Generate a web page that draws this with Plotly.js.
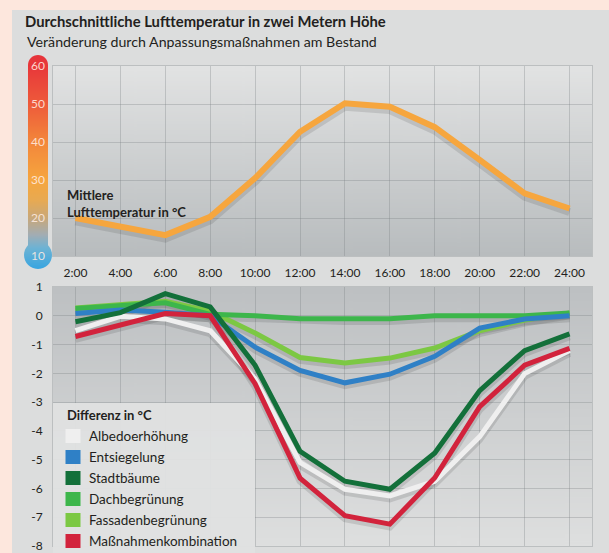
<!DOCTYPE html>
<html><head><meta charset="utf-8">
<script src="https://cdn.plot.ly/plotly-3.0.1.min.js"></script>
<style>html,body{margin:0;padding:0;background:#fde7dd;} #chart{width:609px;height:553px;}</style>
</head><body><div id="chart"></div>
<script>
// ---------- data ----------
const hours = [2, 4, 6, 8, 10, 12, 14, 16, 18, 20, 22, 24];
const hourLabels = ['2:00','4:00','6:00','8:00','10:00','12:00','14:00','16:00','18:00','20:00','22:00','24:00'];
const meanTemp = [20.0, 17.8, 15.5, 20.3, 30.5, 42.7, 50.2, 49.3, 43.9, 35.3, 26.5, 22.5];

const albedo       = [-0.52, -0.02, -0.11, -0.52, -2.20, -5.10, -6.03, -6.26, -5.75, -4.20, -2.01, -1.21];
const entsiegelung = [0.08, 0.20, 0.12, 0.00, -1.09, -1.90, -2.33, -2.03, -1.41, -0.43, -0.11, 0.00];
const stadtbaeume  = [-0.21, 0.11, 0.77, 0.31, -1.72, -4.71, -5.75, -6.03, -4.77, -2.60, -1.21, -0.63];
const dachbegr     = [0.25, 0.35, 0.45, 0.05, 0.00, -0.10, -0.10, -0.10, 0.00, 0.00, 0.00, 0.10];
const fassadenbegr = [0.27, 0.40, 0.50, 0.16, -0.60, -1.45, -1.64, -1.47, -1.12, -0.52, -0.15, 0.10];
const kombination  = [-0.72, -0.34, 0.08, 0.00, -2.36, -5.64, -6.95, -7.24, -5.63, -3.16, -1.72, -1.13];

const legendNames  = ['Albedoerhöhung','Entsiegelung','Stadtbäume','Dachbegrünung','Fassadenbegrünung','Maßnahmenkombination'];
const legendColors = ['#efefef','#2f80c6','#13703a','#3db64b','#7cc843','#d2233c'];
const legendValues = [albedo, entsiegelung, stadtbaeume, dachbegr, fassadenbegr, kombination];
const drawOrder = [4, 3, 1, 0, 2, 5];

const tempTicks = [10, 20, 30, 40, 50, 60];
const diffTicks = [1, 0, -1, -2, -3, -4, -5, -6, -7, -8];
const diffTickLabels = ['1','0','-1','-2','-3','-4','-5','-6','-7','-8'];

// ---------- helpers ----------
const W = 609, H = 553;
const px = v => v / W;
const py = v => 1 - v / H;
function vgrad(w, h, stops, drawFn) {
  const c = document.createElement('canvas'); c.width = w; c.height = h;
  const ctx = c.getContext('2d');
  const g = ctx.createLinearGradient(0, 0, 0, h);
  stops.forEach(s => g.addColorStop(s[0], s[1]));
  ctx.fillStyle = g;
  if (drawFn) drawFn(ctx); else ctx.fillRect(0, 0, w, h);
  return c.toDataURL();
}
const topBg = vgrad(10, 200, [[0, '#e2e3e3'], [1, '#b8bcbe']]);
const botBg = vgrad(10, 200, [[0, '#bdc0c2'], [1, '#dedfdf']]);
// thermometer (canvas 2x: covers px x 23..53, y 54..269)
const tStops = [[55,'#e6333a'],[66,'#e8383a'],[104,'#ee5b3a'],[142,'#f3873b'],[180,'#f6a63f'],[200,'#e8aa52'],[218,'#c8a87a'],[235,'#a2adb4'],[248,'#6db3d4'],[269,'#38a5e1']];
const thermo = vgrad(60, 430, tStops.map(s => [Math.min(1, (s[0] - 54) * 2 / 430), s[1]]), ctx => {
  ctx.beginPath();
  ctx.moveTo(10, 22); ctx.arc(30, 22, 20, Math.PI, 0); ctx.lineTo(50, 402); ctx.lineTo(10, 402); ctx.closePath();
  ctx.fill();
  ctx.beginPath(); ctx.arc(30, 402, 28, 0, 2 * Math.PI); ctx.fill();
});

const FONT = 'Lato, "Open Sans", sans-serif';
const TXT = '#231f20';

// ---------- traces ----------
const traces = [];
traces.push({x: hours, y: meanTemp.map(v => v - 0.9), xaxis: 'x', yaxis: 'y', mode: 'lines',
  line: {color: 'rgba(70,70,70,0.16)', width: 8}, hoverinfo: 'skip', showlegend: false});
traces.push({x: hours, y: meanTemp, xaxis: 'x', yaxis: 'y', mode: 'lines', name: 'Mittlere Lufttemperatur',
  line: {color: '#f6a63e', width: 6}, showlegend: false});
drawOrder.forEach(i => {
  traces.push({x: hours, y: legendValues[i].map(v => v - 0.1), xaxis: 'x2', yaxis: 'y2', mode: 'lines',
    line: {color: 'rgba(40,40,40,0.14)', width: 7}, hoverinfo: 'skip', showlegend: false});
});
drawOrder.forEach(i => {
  traces.push({x: hours, y: legendValues[i], xaxis: 'x2', yaxis: 'y2', mode: 'lines', name: legendNames[i],
    line: {color: legendColors[i], width: 5}, showlegend: false});
});

// ---------- layout ----------
const gridC = 'rgba(120,126,132,0.32)';
const xCommon = {range: [1, 25], tickvals: hours, ticktext: hourLabels, showgrid: true, gridcolor: gridC,
  zeroline: false, showline: true, mirror: true, linecolor: gridC, ticks: '', fixedrange: true,
  domain: [px(53), px(592)]};

const shapes = [
  {type: 'rect', xref: 'paper', yref: 'paper', x0: px(12), x1: 1, y0: 0, y1: py(10),
   fillcolor: '#dcdddd', line: {width: 0}, layer: 'below'},
  {type: 'rect', xref: 'paper', yref: 'paper', x0: px(53), x1: px(255), y0: 0, y1: py(403),
   fillcolor: 'rgba(224,225,225,0.96)', line: {width: 0}, layer: 'above'}
];
const annotations = [
  {text: 'Veränderung durch Anpassungsmaßnahmen am Bestand', xref: 'paper', yref: 'paper',
   x: px(25), y: py(41), xanchor: 'left', yanchor: 'middle', showarrow: false,
   font: {family: FONT, size: 14.2, color: TXT}},
  {text: '<b>Mittlere<br>Lufttemperatur in °C</b>', xref: 'paper', yref: 'paper', align: 'left',
   x: px(65), y: py(185), xanchor: 'left', yanchor: 'top', showarrow: false,
   font: {family: FONT, size: 13, color: TXT}},
  {text: '<b>Differenz in °C</b>', xref: 'paper', yref: 'paper',
   x: px(65), y: py(415), xanchor: 'left', yanchor: 'middle', showarrow: false,
   font: {family: FONT, size: 13, color: TXT}}
];
tempTicks.forEach(t => annotations.push({text: String(t), xref: 'paper', yref: 'y', x: px(38), y: t,
  xanchor: 'center', yanchor: 'middle', showarrow: false,
  font: {family: FONT, size: 12, color: 'rgba(255,236,226,0.88)'}}));
legendNames.forEach((n, i) => {
  const cy = 436 + i * 21;
  shapes.push({type: 'rect', xref: 'paper', yref: 'paper', x0: px(65.5), x1: px(80.5), y0: py(cy + 7), y1: py(cy - 7),
    fillcolor: legendColors[i], line: {width: 0}, layer: 'above'});
  annotations.push({text: n, xref: 'paper', yref: 'paper', x: px(86.5), y: py(cy), xanchor: 'left', yanchor: 'middle',
    showarrow: false, font: {family: FONT, size: 13.5, color: TXT}});
});

const layout = {
  width: W, height: H, margin: {l: 0, r: 0, t: 0, b: 0},
  paper_bgcolor: '#fde7dd', plot_bgcolor: 'rgba(0,0,0,0)',
  font: {family: FONT, size: 12, color: TXT},
  title: {text: '<b>Durchschnittliche Lufttemperatur in zwei Metern Höhe</b>', xref: 'paper', yref: 'paper',
    x: px(25), y: py(22), xanchor: 'left', yanchor: 'middle', font: {family: FONT, size: 14.8, color: TXT}},
  showlegend: false,
  xaxis: Object.assign({}, xCommon, {anchor: 'y', showticklabels: true, ticklabelstandoff: 6,
    tickfont: {family: FONT, size: 12, color: TXT}}),
  yaxis: {domain: [py(256), py(66)], range: [10, 60], tickvals: tempTicks, showticklabels: false, showgrid: true,
    gridcolor: gridC, zeroline: false, showline: true, mirror: true, linecolor: gridC, ticks: '', fixedrange: true, anchor: 'x'},
  xaxis2: Object.assign({}, xCommon, {anchor: 'y2', showticklabels: false}),
  yaxis2: {domain: [py(546), py(287)], range: [-8, 1], tickvals: diffTicks, ticktext: diffTickLabels,
    showgrid: true, gridcolor: gridC, zeroline: false, showline: true, mirror: true, linecolor: gridC, ticks: '',
    ticklabelstandoff: 7, ticklabeloverflow: 'allow', tickfont: {family: FONT, size: 12, color: TXT}, fixedrange: true, anchor: 'x2'},
  images: [
    {source: topBg, xref: 'x', yref: 'y', x: 1, y: 60, sizex: 24, sizey: 50, sizing: 'stretch', layer: 'below', xanchor: 'left', yanchor: 'top'},
    {source: botBg, xref: 'x2', yref: 'y2', x: 1, y: 1, sizex: 24, sizey: 9, sizing: 'stretch', layer: 'below', xanchor: 'left', yanchor: 'top'},
    {source: thermo, xref: 'paper', yref: 'paper', x: px(23), y: py(54), sizex: px(30), sizey: 215 / H, sizing: 'stretch', layer: 'above', xanchor: 'left', yanchor: 'top'}
  ],
  shapes: shapes,
  annotations: annotations
};

Plotly.newPlot('chart', traces, layout, {staticPlot: true, displayModeBar: false});
</script>
</body></html>
